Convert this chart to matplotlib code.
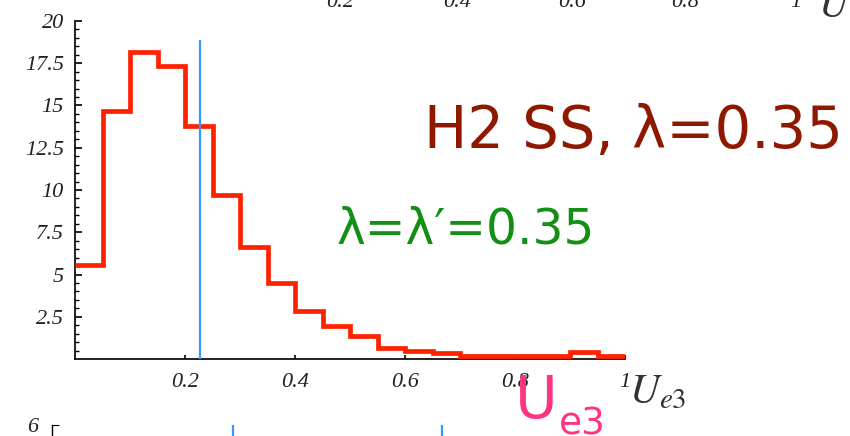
import numpy as np
import matplotlib.pyplot as plt

# histogram of |U_e3| (bin width 0.05)
bin_edges = np.linspace(0, 1, 21)
counts = [5.55, 14.65, 18.15, 17.35, 13.8, 9.7, 6.6, 4.5, 2.85, 1.95,
          1.35, 0.65, 0.5, 0.35, 0.2, 0.2, 0.2, 0.2, 0.4, 0.2]
ue3_best = 0.227
ue3_line_top = 18.9

xticks = [0.2, 0.4, 0.6, 0.8, 1.0]
xtick_labels = ['0.2', '0.4', '0.6', '0.8', '1']
yticks = [2.5, 5, 7.5, 10, 12.5, 15, 17.5, 20]
ytick_labels = ['2.5', '5', '7.5', '10', '12.5', '15', '17.5', '20']

# neighbouring panels, only partly in view
upper_labels = ['0.2', '0.4', '0.6', '0.8', '1']
upper_label_x = [340, 457, 572, 685, 796]
lower_blue = [0.28, 0.602]

W, H = 850, 436
fig = plt.figure(figsize=(W / 100, H / 100), dpi=100)

def fx(px):
    return px / W

def fy(py):
    return 1 - py / H

tick_font = dict(family='Liberation Serif', style='italic', size=16, color='#222222')

ax = fig.add_axes([fx(75), fy(359), fx(625) - fx(75), fy(21) - fy(359)])
ax.stairs(counts, bin_edges, baseline=None, color='#ff2200', linewidth=3.4, zorder=3)
ax.vlines(ue3_best, 0, ue3_line_top, color='#3399ff', linewidth=1.6, zorder=4)

ax.set_xlim(0, 1)
ax.set_ylim(0, 20)
for s in ['top', 'right']:
    ax.spines[s].set_visible(False)
for s in ['left', 'bottom']:
    ax.spines[s].set_linewidth(1.3)
    ax.spines[s].set_color('#111111')

ax.set_xticks(xticks)
ax.set_xticklabels(xtick_labels, fontdict=tick_font)
ax.set_yticks(yticks)
ax.set_yticklabels(ytick_labels, fontdict=tick_font)
ax.set_yticks(np.arange(0.5, 20, 0.5), minor=True)
ax.tick_params(axis='x', direction='in', length=3, width=1.2, pad=10)
ax.tick_params(axis='y', which='major', direction='in', length=5, width=1.2, pad=8)
ax.tick_params(axis='y', which='minor', direction='in', length=3, width=1.0)

plt.rcParams['mathtext.fontset'] = 'stix'
fig.text(fx(629), fy(403), r'$U_{e3}$', fontsize=30, color='#333333', va='baseline')

# annotations
fig.text(fx(424), fy(148), 'H2 SS, λ=0.35', fontsize=41.5, color='#8f1800',
         family='DejaVu Sans', va='baseline')
fig.text(fx(337), fy(243), 'λ=λ′=0.35', fontsize=35, color='#139013',
         family='DejaVu Sans', va='baseline')
fig.text(fx(515), fy(418), 'U', fontsize=42, color='#ff3383',
         family='DejaVu Sans', va='baseline')
fig.text(fx(559), fy(434), 'e3', fontsize=27, color='#ff3383',
         family='DejaVu Sans', va='baseline')

# tick labels of the panel above
for lab, px in zip(upper_labels, upper_label_x):
    fig.text(fx(px), fy(7), lab, ha='center', va='baseline', fontdict=tick_font)
fig.text(fx(818), fy(17), r'$U$', fontsize=30, color='#333333', va='baseline')

# top of the panel below
ax2 = fig.add_axes([fx(52), fy(470), fx(700) - fx(52), fy(425) - fy(470)])
ax2.set_xlim(0, 1)
ax2.set_ylim(5, 6)
ax2.vlines(lower_blue, 5, 6, color='#3399ff', linewidth=1.6)
for s in ['top', 'right', 'bottom']:
    ax2.spines[s].set_visible(False)
ax2.spines['left'].set_linewidth(1.0)
ax2.set_xticks([])
ax2.set_yticks([6])
ax2.set_yticklabels(['6'], fontdict=tick_font)
ax2.tick_params(axis='y', direction='in', length=5, pad=10)

fig.savefig('out.png', dpi=100)
